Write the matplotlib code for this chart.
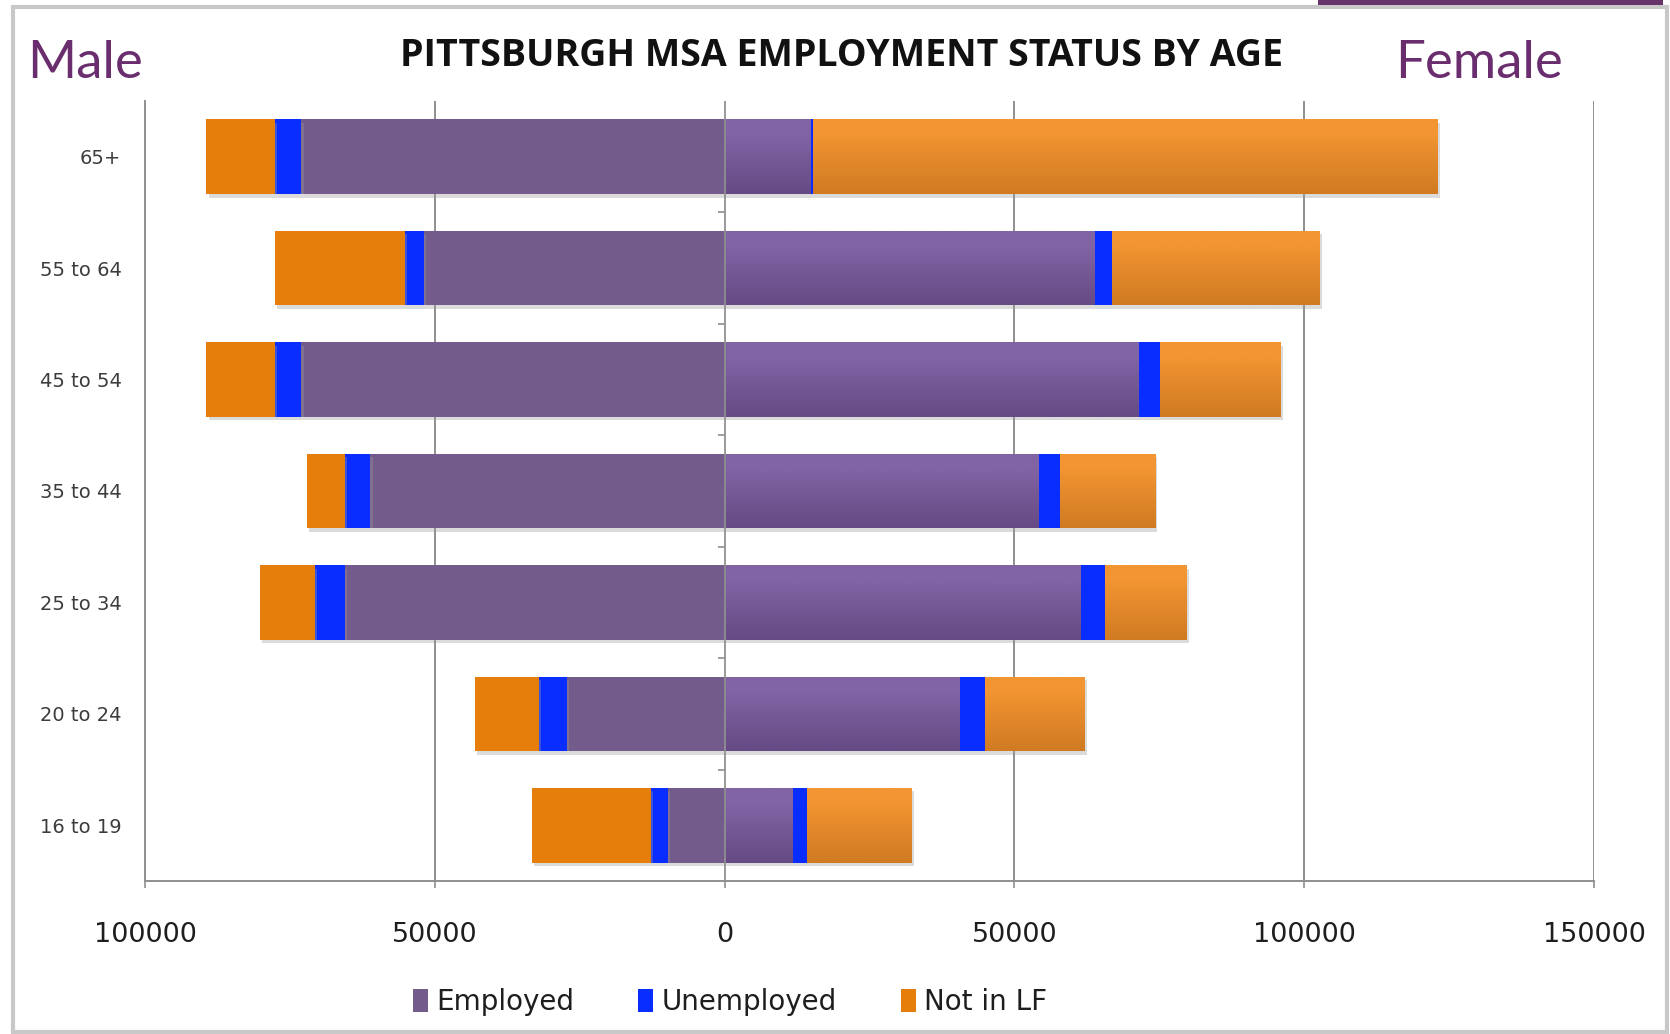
import numpy as np
import matplotlib
matplotlib.use("Agg")
import matplotlib.pyplot as plt
from matplotlib.patches import Rectangle, Patch
from matplotlib import patheffects as pe
from matplotlib.colors import to_rgb

# Age groups, bottom to top
ages = ['16 to 19', '20 to 24', '25 to 34', '35 to 44', '45 to 54', '55 to 64', '65+']

# Male counts (drawn to the left of zero)
male_employed = [9700, 27200, 65500, 61100, 73000, 51900, 73000]
male_unemployed = [3000, 4800, 5100, 4400, 4500, 3300, 4500]
male_not_in_lf = [20600, 11100, 9500, 6500, 11900, 22300, 11900]

# Female counts (drawn to the right of zero)
female_employed = [11700, 40500, 61400, 54100, 71400, 63700, 14800]
female_unemployed = [2600, 4400, 4300, 3800, 3800, 3200, 500]
female_not_in_lf = [18100, 17200, 14100, 16400, 20800, 35800, 107700]

x_ticks = [-100000, -50000, 0, 50000, 100000, 150000]
x_tick_labels = ['100000', '50000', '0', '50000', '100000', '150000']
series_names = ['Employed', 'Unemployed', 'Not in LF']

C_EMP_M = '#735c8c'
C_EMP_F_TOP, C_EMP_F_BOT = '#8064a4', '#664a85'
C_UNEMP = '#0a2dff'
C_NILF_M = '#e67e0c'
C_NILF_F_TOP, C_NILF_F_BOT = '#f29532', '#d07a22'
C_TITLE_PURPLE = '#6a2d6e'
GRID = '#8f8f8f'

W, H = 1670, 1034
fig = plt.figure(figsize=(W / 100, H / 100), dpi=100)
fig.patch.set_facecolor('white')

ax = fig.add_axes([145 / W, 1 - 881 / H, (1594 - 145) / W, (881 - 101) / H])

y = np.arange(len(ages))
bh = 0.67
shadow = [pe.SimplePatchShadow(offset=(1.5, -2.5), shadow_rgbFace='#9a9a9a', alpha=0.35), pe.Normal()]

me = -np.array(male_employed)
mu = -np.array(male_unemployed)
mn = -np.array(male_not_in_lf)
fe = np.array(female_employed)
fu = np.array(female_unemployed)
fn = np.array(female_not_in_lf)

bars = []
bars.append(ax.barh(y, me, height=bh, color=C_EMP_M, zorder=3))
bars.append(ax.barh(y, mu, left=me, height=bh, color=C_UNEMP, zorder=3))
bars.append(ax.barh(y, mn, left=me + mu, height=bh, color=C_NILF_M, zorder=3))
fe_bars = ax.barh(y, fe, height=bh, color=C_EMP_F_BOT, zorder=3)
bars.append(fe_bars)
bars.append(ax.barh(y, fu, left=fe, height=bh, color=C_UNEMP, zorder=3))
fn_bars = ax.barh(y, fn, left=fe + fu, height=bh, color=C_NILF_F_BOT, zorder=3)
bars.append(fn_bars)

for cont in bars:
    for p in cont.patches:
        p.set_path_effects(shadow)


def gradient_fill(container, top, bottom):
    t = np.array(to_rgb(top))
    b = np.array(to_rgb(bottom))
    f = np.linspace(0, 1, 64)[:, None]
    # row 0 is the bottom of the bar (origin='lower'); top fifth stays flat
    grad = np.where(f > 0.8, t[None, :], b[None, :] + (t - b)[None, :] * np.clip(f / 0.8, 0, 1))
    img = grad[:, None, :]
    for p in container.patches:
        x0, y0 = p.get_x(), p.get_y()
        x1, y1 = x0 + p.get_width(), y0 + p.get_height()
        im = ax.imshow(img, extent=(x0, x1, y0, y1), origin='lower',
                       aspect='auto', zorder=3.5, interpolation='bilinear')
        im.set_clip_path(p)


gradient_fill(fe_bars, C_EMP_F_TOP, C_EMP_F_BOT)
gradient_fill(fn_bars, C_NILF_F_TOP, C_NILF_F_BOT)

ax.set_xlim(-100000, 150000)
ax.set_ylim(-0.5, len(ages) - 0.5)

# vertical gridlines behind the bars, zero line on top of them
for xv in [-50000, 50000, 100000, 150000]:
    ax.axvline(xv, color=GRID, lw=1.4, zorder=1)
ax.axvline(0, color=GRID, lw=1.4, zorder=5, alpha=0.9)
# small category separators on the zero line
ax.plot([0] * (len(ages) - 1), y[:-1] + 0.5, linestyle='none', marker=0,
        markersize=5, color=GRID, markeredgewidth=1.2, zorder=5, clip_on=False)

for s in ['top', 'right']:
    ax.spines[s].set_visible(False)
for s in ['left', 'bottom']:
    ax.spines[s].set_color(GRID)
    ax.spines[s].set_linewidth(1.4)

ax.set_xticks(x_ticks)
ax.set_xticklabels(x_tick_labels)
ax.tick_params(axis='x', direction='out', length=5, width=1.2, color=GRID,
               pad=24.5, labelsize=19.5, labelcolor='#1e1e1e')
ax.set_yticks(y)
ax.set_yticklabels(ages)
ax.tick_params(axis='y', length=0, pad=17, labelsize=14, labelcolor='#3c3c3c')
ax.set_facecolor('white')

# headings
fig.text(841 / W, 1 - 56 / H, 'PITTSBURGH MSA EMPLOYMENT STATUS BY AGE',
         ha='center', va='center', fontsize=27, fontweight='bold',
         family='Open Sans', color='#111111')
fig.text(27 / W, 1 - 64 / H, 'Male', ha='left', va='center', fontsize=38,
         family='Lato', fontweight='normal', color=C_TITLE_PURPLE)
fig.text(1395 / W, 1 - 64 / H, 'Female', ha='left', va='center', fontsize=38,
         family='Lato', fontweight='normal', color=C_TITLE_PURPLE)

handles = [Patch(facecolor=C_EMP_M), Patch(facecolor=C_UNEMP), Patch(facecolor=C_NILF_M)]
fig.legend(handles, series_names, loc='center', bbox_to_anchor=(730 / W, 1 - 1002 / H),
           ncol=3, frameon=False, fontsize=20, handlelength=0.55, handleheight=0.9,
           handletextpad=0.3, columnspacing=2.3, labelcolor='#1e1e1e')

# slide frame and accent strip
fig.patches.append(Rectangle((12.5 / W, 2 / H), (1667 - 12.5) / W, (1032 - 6.5) / H,
                             transform=fig.transFigure, fill=False,
                             edgecolor='#c8c8c8', lw=3, zorder=0))
fig.patches.append(Rectangle((1318 / W, 1 - 5 / H), (1663 - 1318) / W, 5 / H,
                             transform=fig.transFigure, facecolor='#66336a',
                             edgecolor='none', zorder=10))

fig.savefig('out.png', dpi=100, facecolor='white')
